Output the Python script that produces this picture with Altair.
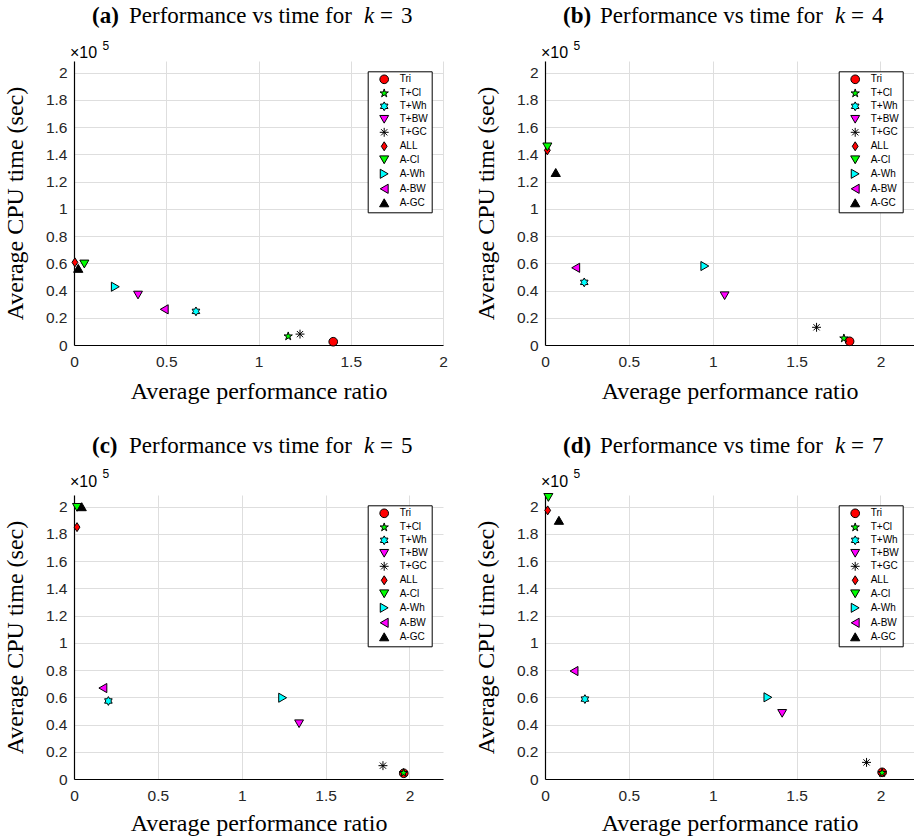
import altair as alt
import pandas as pd

# ---------------- data ----------------
methods = ["Tri", "T+Cl", "T+Wh", "T+BW", "T+GC", "ALL", "A-Cl", "A-Wh", "A-BW", "A-GC"]

# panel (a) k = 3
ratio_k3 = [1.405, 1.161, 0.661, 0.347, 1.225, 0.005, 0.056, 0.224, 0.489, 0.023]
time_k3 = [0.024, 0.064, 0.247, 0.367, 0.080, 0.607, 0.595, 0.428, 0.262, 0.563]
# panel (b) k = 4
ratio_k4 = [1.816, 1.782, 0.234, 1.071, 1.619, 0.014, 0.014, 0.953, 0.183, 0.064]
time_k4 = [0.027, 0.049, 0.460, 0.362, 0.130, 1.430, 1.455, 0.580, 0.567, 1.267]
# panel (c) k = 5
ratio_k5 = [1.966, 1.965, 0.205, 1.342, 1.842, 0.018, 0.018, 1.244, 0.172, 0.046]
time_k5 = [0.042, 0.045, 0.573, 0.406, 0.098, 1.850, 1.995, 0.597, 0.668, 2.000]
# panel (d) k = 7
ratio_k7 = [2.010, 2.010, 0.238, 1.414, 1.917, 0.016, 0.020, 1.329, 0.173, 0.083]
time_k7 = [0.049, 0.045, 0.587, 0.482, 0.122, 1.973, 2.068, 0.600, 0.793, 1.900]

x_ticks = [0, 0.5, 1, 1.5, 2]
y_ticks = [0, 0.2, 0.4, 0.6, 0.8, 1, 1.2, 1.4, 1.6, 1.8, 2]

# ---------------- styles ----------------
fills = ["#ff0000", "#00ff00", "#00ffff", "#ff00ff", "#000000",
         "#ff0000", "#00ff00", "#00ffff", "#ff00ff", "#000000"]
STAR = ("M0,-1L0.225,-0.309L0.951,-0.309L0.363,0.118L0.588,0.809L0,0.382"
        "L-0.588,0.809L-0.363,0.118L-0.951,-0.309L-0.225,-0.309Z")
HEXA = ("M0,-1L0.289,-0.5L0.866,-0.5L0.577,0L0.866,0.5L0.289,0.5L0,1"
        "L-0.289,0.5L-0.866,0.5L-0.577,0L-0.866,-0.5L-0.289,-0.5Z")
AST = "M0,-1L0,1M-1,0L1,0M-0.7,-0.7L0.7,0.7M-0.7,0.7L0.7,-0.7"
DIAM = "M0,-1L0.65,0L0,1L-0.65,0Z"
shapes = ["circle", STAR, HEXA, "triangle-down", AST, DIAM,
          "triangle-down", "triangle-right", "triangle-left", "triangle-up"]
sizes = [75, 85, 70, 110, 75, 110, 110, 110, 110, 110]

W, H = 369, 284
YMAX = 2.086
SERIF = "Liberation Serif"
SANS = "Liberation Sans"
LABEL_COLOR = "#262626"


def txt(s, x, y, size, font, weight="normal", style="normal"):
    return alt.Chart(alt.Data(values=[{}])).mark_text(
        text=s, font=font, fontSize=size, fontWeight=weight, fontStyle=style,
        align="left", baseline="alphabetic", color="black"
    ).encode(x=alt.value(x), y=alt.value(y))


def panel(letter, kval, ratio, time, xmax, title_y, x10_y, xtitle_y):
    df = pd.DataFrame({"method": methods, "ratio": ratio, "time": time})
    leg = alt.Legend(
        title=None, orient="none", legendX=293.7, legendY=10.3,
        padding=3, symbolOffset=8, labelOffset=10, rowPadding=0,
        strokeColor="black", fillColor="white", cornerRadius=0,
        labelFont=SANS, labelFontSize=10, labelColor="black",
        symbolStrokeWidth=1,
    )
    pts = alt.Chart(df).mark_point(
        filled=True, stroke="black", strokeWidth=1, opacity=1
    ).encode(
        x=alt.X("ratio:Q",
                scale=alt.Scale(domain=[0, xmax], nice=False, zero=False),
                axis=alt.Axis(values=x_ticks, format=".1~f",
                              title="Average performance ratio",
                              titleFont=SERIF, titleFontSize=24, titleFontWeight="normal",
                              titleColor="black", titleBaseline="alphabetic", titleY=xtitle_y,
                              labelFont=SANS, labelFontSize=15.5, labelColor=LABEL_COLOR,
                              labelPadding=9, labelFlush=False, labelOverlap=False,
                              ticks=False, tickSize=0,
                              domainColor="black", domainWidth=1.2,
                              grid=True, gridColor="#dedede", gridWidth=1)),
        y=alt.Y("time:Q",
                scale=alt.Scale(domain=[0, YMAX], nice=False, zero=False),
                axis=alt.Axis(values=y_ticks, format=".1~f",
                              title="Average CPU time (sec)",
                              titleFont=SERIF, titleFontSize=24, titleFontWeight="normal",
                              titleColor="black", titleBaseline="alphabetic", titleX=-52,
                              labelFont=SANS, labelFontSize=15.5, labelColor=LABEL_COLOR,
                              labelPadding=7, labelOverlap=False,
                              ticks=False, tickSize=0,
                              domainColor="black", domainWidth=1.2,
                              grid=True, gridColor="#dedede", gridWidth=1)),
        fill=alt.Fill("method:N", scale=alt.Scale(domain=methods, range=fills), legend=leg),
        shape=alt.Shape("method:N", scale=alt.Scale(domain=methods, range=shapes), legend=leg),
        size=alt.Size("method:N", scale=alt.Scale(domain=methods, range=sizes), legend=leg),
        stroke=alt.value("black"),
        strokeWidth=alt.value(1),
    )
    layers = [
        pts,
        txt("(" + letter + ")", 18, title_y, 23, SERIF, weight="bold"),
        txt("Performance vs time for", 55, title_y, 23, SERIF),
        txt("k", 290, title_y, 23, SERIF, style="italic"),
        txt("=", 306, title_y, 23, SERIF),
        txt(str(kval), 327, title_y, 23, SERIF),
        txt("\u00d710", -4, x10_y, 16, SANS),
        txt("5", 28.5, x10_y - 8.3, 12, SANS),
    ]
    return alt.layer(*layers).properties(width=W, height=H)


pa = panel("a", 3, ratio_k3, time_k3, 2.0, -38.3, -2.7, 53)
pb = panel("b", 4, ratio_k4, time_k4, 2.2, -38.3, -2.7, 53)
pc = panel("c", 5, ratio_k5, time_k5, 2.2, -41.7, -8.3, 51.5)
pd_ = panel("d", 7, ratio_k7, time_k7, 2.2, -41.7, -8.3, 51.5)

chart = alt.concat(
    pa, pb, pc, pd_, columns=2, spacing={"row": 150, "column": 102}, bounds="flush"
).resolve_scale(
    x="independent", y="independent", fill="independent", shape="independent", size="independent"
).resolve_legend(
    fill="independent", shape="independent", size="independent"
).properties(
    padding={"left": 2, "top": 4, "right": 0, "bottom": 0},
    background="white",
).configure_view(strokeOpacity=0)

chart.save("out.html", embed_options={"renderer": "svg", "actions": False})
